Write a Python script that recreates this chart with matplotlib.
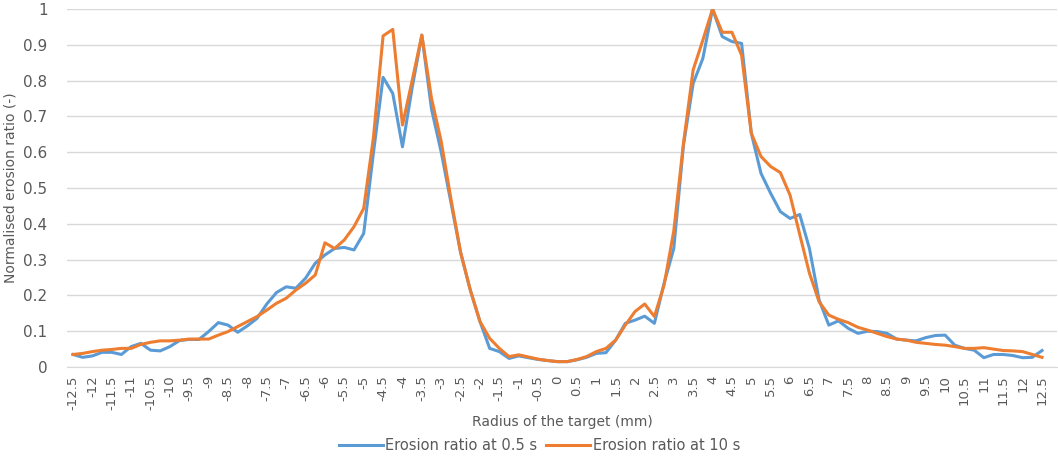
import numpy as np
import matplotlib
matplotlib.use("Agg")
import matplotlib.pyplot as plt

plt.rcParams['font.family'] = ['Liberation Sans Narrow', 'DejaVu Sans']

# radius positions (mm), one point every 0.25 mm
radius = np.linspace(-12.5, 12.5, 101)

erosion_05s = [
    0.035, 0.027, 0.031, 0.041, 0.041, 0.035, 0.057, 0.066, 0.047, 0.045,
    0.057, 0.074, 0.077, 0.077, 0.099, 0.124, 0.117, 0.097, 0.115, 0.136,
    0.176, 0.208, 0.224, 0.220, 0.248, 0.290, 0.313, 0.331, 0.334, 0.327,
    0.373, 0.597, 0.809, 0.764, 0.615, 0.780, 0.927, 0.720, 0.600, 0.460,
    0.320, 0.215, 0.127, 0.052, 0.043, 0.024, 0.031, 0.026, 0.021, 0.018,
    0.015, 0.015, 0.020, 0.027, 0.038, 0.040, 0.075, 0.122, 0.131, 0.142,
    0.122, 0.234, 0.331, 0.620, 0.792, 0.862, 1.000, 0.923, 0.909, 0.904,
    0.653, 0.541, 0.485, 0.434, 0.415, 0.426, 0.331, 0.187, 0.117, 0.129,
    0.108, 0.094, 0.100, 0.099, 0.094, 0.078, 0.075, 0.073, 0.082, 0.088,
    0.089, 0.061, 0.052, 0.047, 0.026, 0.035, 0.035, 0.032, 0.026, 0.027,
    0.046,
]

erosion_10s = [
    0.035, 0.038, 0.043, 0.047, 0.049, 0.052, 0.052, 0.063, 0.069, 0.073,
    0.073, 0.075, 0.078, 0.078, 0.078, 0.089, 0.099, 0.113, 0.127, 0.141,
    0.159, 0.178, 0.192, 0.215, 0.234, 0.257, 0.347, 0.331, 0.355, 0.392,
    0.443, 0.640, 0.925, 0.943, 0.676, 0.800, 0.927, 0.750, 0.630, 0.470,
    0.320, 0.215, 0.127, 0.080, 0.052, 0.029, 0.034, 0.028, 0.022, 0.018,
    0.015, 0.015, 0.021, 0.029, 0.043, 0.052, 0.075, 0.117, 0.155, 0.176,
    0.141, 0.229, 0.380, 0.625, 0.830, 0.913, 1.000, 0.935, 0.935, 0.871,
    0.653, 0.588, 0.560, 0.543, 0.480, 0.370, 0.262, 0.182, 0.145, 0.133,
    0.124, 0.111, 0.103, 0.094, 0.085, 0.078, 0.075, 0.069, 0.066, 0.063,
    0.061, 0.057, 0.052, 0.052, 0.054, 0.050, 0.046, 0.045, 0.043, 0.035,
    0.027,
]

tick_pos = np.arange(-12.5, 12.51, 0.5)
tick_labels = [f"{t:g}" for t in tick_pos]

fig = plt.figure(figsize=(10.58, 4.57), dpi=100)
ax = fig.add_axes([67 / 1058, 90 / 457, 990 / 1058, 358 / 457])

grey = "#595959"
ax.plot(radius, erosion_05s, color="#5B9BD5", lw=2.2, label="Erosion ratio at 0.5 s")
ax.plot(radius, erosion_10s, color="#ED7D31", lw=2.2, label="Erosion ratio at 10 s")

ax.set_xlim(-12.5 - 6 / 38.76, 12.5 + 15 / 38.76)
ax.set_ylim(0, 1)
ax.set_yticks(np.arange(0, 1.01, 0.1))
ax.set_yticklabels([f"{v:g}" for v in np.arange(0, 1.01, 0.1).round(1)])
ax.set_xticks(tick_pos)
ax.set_xticklabels(tick_labels, rotation=90)
ax.tick_params(axis="both", length=0, colors=grey)
ax.tick_params(axis="y", labelsize=11, pad=14)
ax.tick_params(axis="x", labelsize=9.5, pad=6)

ax.grid(axis="y", color="#D9D9D9", lw=1)
ax.set_axisbelow(True)
for s in ["top", "right", "left"]:
    ax.spines[s].set_visible(False)
ax.spines["bottom"].set_color("#D9D9D9")

ax.set_xlabel("Radius of the target (mm)", fontsize=10, color=grey, labelpad=4)
ax.set_ylabel("Normalised erosion ratio (-)", fontsize=10, color=grey)
ax.yaxis.set_label_coords(-49 / 990, 0.5)

fig.legend(loc="center", bbox_to_anchor=(0.51, 11 / 457), ncol=2,
           frameon=False, fontsize=10.5, labelcolor=grey, handlelength=3.0,
           handletextpad=0.2, columnspacing=0.6, borderpad=0)

fig.savefig("out.png", dpi=100)
